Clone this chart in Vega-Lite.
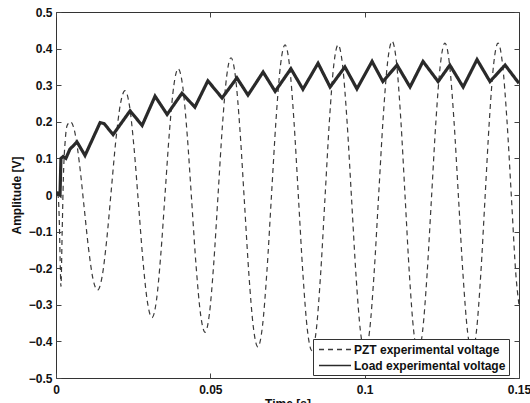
{
  "$schema": "https://vega.github.io/schema/vega-lite/v6.json",
  "width": 463,
  "height": 366,
  "autosize": {"type": "none"},
  "padding": {"left": 56, "top": 12, "right": 11, "bottom": 25},
  "background": "white",
  "config": {
    "view": {"stroke": "#333", "strokeWidth": 1},
    "axis": {
      "labelFont": "Liberation Sans", "labelFontWeight": "bold", "labelFontSize": 12, "labelColor": "#111",
      "titleFont": "Liberation Sans", "titleFontWeight": "bold", "titleFontSize": 12, "titleColor": "#111",
      "domain": false, "grid": false, "tickColor": "#444", "tickSize": -5, "tickWidth": 1
    },
    "legend": {
      "labelFont": "Liberation Sans", "labelFontWeight": "bold", "labelFontSize": 12, "labelColor": "#111"
    }
  },
  "data": {
    "values": [
      {"series": "Load experimental voltage", "t": 0.0, "v": 0.0},
      {"series": "Load experimental voltage", "t": 0.0006, "v": 0.005},
      {"series": "Load experimental voltage", "t": 0.0013, "v": 0.0},
      {"series": "Load experimental voltage", "t": 0.0016, "v": 0.1},
      {"series": "Load experimental voltage", "t": 0.0023, "v": 0.105},
      {"series": "Load experimental voltage", "t": 0.0032, "v": 0.1},
      {"series": "Load experimental voltage", "t": 0.0045, "v": 0.125},
      {"series": "Load experimental voltage", "t": 0.0068, "v": 0.145},
      {"series": "Load experimental voltage", "t": 0.0094, "v": 0.108},
      {"series": "Load experimental voltage", "t": 0.0143, "v": 0.198},
      {"series": "Load experimental voltage", "t": 0.0156, "v": 0.195},
      {"series": "Load experimental voltage", "t": 0.0185, "v": 0.165},
      {"series": "Load experimental voltage", "t": 0.024, "v": 0.23},
      {"series": "Load experimental voltage", "t": 0.0279, "v": 0.19},
      {"series": "Load experimental voltage", "t": 0.0321, "v": 0.27},
      {"series": "Load experimental voltage", "t": 0.036, "v": 0.22},
      {"series": "Load experimental voltage", "t": 0.0408, "v": 0.278},
      {"series": "Load experimental voltage", "t": 0.045, "v": 0.24},
      {"series": "Load experimental voltage", "t": 0.0492, "v": 0.312},
      {"series": "Load experimental voltage", "t": 0.0538, "v": 0.265},
      {"series": "Load experimental voltage", "t": 0.0586, "v": 0.32},
      {"series": "Load experimental voltage", "t": 0.0622, "v": 0.273},
      {"series": "Load experimental voltage", "t": 0.0671, "v": 0.336},
      {"series": "Load experimental voltage", "t": 0.071, "v": 0.283},
      {"series": "Load experimental voltage", "t": 0.0761, "v": 0.345},
      {"series": "Load experimental voltage", "t": 0.08, "v": 0.289},
      {"series": "Load experimental voltage", "t": 0.0849, "v": 0.36},
      {"series": "Load experimental voltage", "t": 0.0888, "v": 0.295},
      {"series": "Load experimental voltage", "t": 0.0936, "v": 0.35},
      {"series": "Load experimental voltage", "t": 0.0975, "v": 0.29},
      {"series": "Load experimental voltage", "t": 0.1024, "v": 0.365},
      {"series": "Load experimental voltage", "t": 0.1059, "v": 0.31},
      {"series": "Load experimental voltage", "t": 0.1105, "v": 0.355},
      {"series": "Load experimental voltage", "t": 0.1147, "v": 0.295},
      {"series": "Load experimental voltage", "t": 0.1189, "v": 0.365},
      {"series": "Load experimental voltage", "t": 0.1238, "v": 0.31},
      {"series": "Load experimental voltage", "t": 0.1276, "v": 0.355},
      {"series": "Load experimental voltage", "t": 0.1319, "v": 0.295},
      {"series": "Load experimental voltage", "t": 0.1364, "v": 0.37},
      {"series": "Load experimental voltage", "t": 0.1406, "v": 0.31},
      {"series": "Load experimental voltage", "t": 0.1455, "v": 0.355},
      {"series": "Load experimental voltage", "t": 0.15, "v": 0.305},

      {"series": "PZT experimental voltage", "t": 0.0, "v": 0.0},
      {"series": "PZT experimental voltage", "t": 0.0006, "v": 0.0},
      {"series": "PZT experimental voltage", "t": 0.0011, "v": -0.08},
      {"series": "PZT experimental voltage", "t": 0.0014, "v": -0.2},
      {"series": "PZT experimental voltage", "t": 0.0016, "v": -0.25},
      {"series": "PZT experimental voltage", "t": 0.002, "v": -0.1},
      {"series": "PZT experimental voltage", "t": 0.0024, "v": 0.05},
      {"series": "PZT experimental voltage", "t": 0.003, "v": 0.15},
      {"series": "PZT experimental voltage", "t": 0.0036, "v": 0.19},
      {"series": "PZT experimental voltage", "t": 0.0047, "v": 0.2},
      {"series": "PZT experimental voltage", "t": 0.00616, "v": 0.169},
      {"series": "PZT experimental voltage", "t": 0.00761, "v": 0.085},
      {"series": "PZT experimental voltage", "t": 0.00907, "v": -0.03},
      {"series": "PZT experimental voltage", "t": 0.01053, "v": -0.145},
      {"series": "PZT experimental voltage", "t": 0.01198, "v": -0.229},
      {"series": "PZT experimental voltage", "t": 0.01344, "v": -0.26},
      {"series": "PZT experimental voltage", "t": 0.01493, "v": -0.2235},
      {"series": "PZT experimental voltage", "t": 0.01641, "v": -0.124},
      {"series": "PZT experimental voltage", "t": 0.0179, "v": 0.0125},
      {"series": "PZT experimental voltage", "t": 0.01938, "v": 0.149},
      {"series": "PZT experimental voltage", "t": 0.02087, "v": 0.2485},
      {"series": "PZT experimental voltage", "t": 0.02235, "v": 0.285},
      {"series": "PZT experimental voltage", "t": 0.02381, "v": 0.2435},
      {"series": "PZT experimental voltage", "t": 0.02527, "v": 0.13},
      {"series": "PZT experimental voltage", "t": 0.02673, "v": -0.025},
      {"series": "PZT experimental voltage", "t": 0.02818, "v": -0.18},
      {"series": "PZT experimental voltage", "t": 0.02964, "v": -0.2935},
      {"series": "PZT experimental voltage", "t": 0.0311, "v": -0.335},
      {"series": "PZT experimental voltage", "t": 0.03252, "v": -0.2894},
      {"series": "PZT experimental voltage", "t": 0.03393, "v": -0.165},
      {"series": "PZT experimental voltage", "t": 0.03535, "v": 0.005},
      {"series": "PZT experimental voltage", "t": 0.03677, "v": 0.175},
      {"series": "PZT experimental voltage", "t": 0.03818, "v": 0.2994},
      {"series": "PZT experimental voltage", "t": 0.0396, "v": 0.345},
      {"series": "PZT experimental voltage", "t": 0.04105, "v": 0.2968},
      {"series": "PZT experimental voltage", "t": 0.0425, "v": 0.165},
      {"series": "PZT experimental voltage", "t": 0.04395, "v": -0.015},
      {"series": "PZT experimental voltage", "t": 0.0454, "v": -0.195},
      {"series": "PZT experimental voltage", "t": 0.04685, "v": -0.3268},
      {"series": "PZT experimental voltage", "t": 0.0483, "v": -0.375},
      {"series": "PZT experimental voltage", "t": 0.0497, "v": -0.3248},
      {"series": "PZT experimental voltage", "t": 0.0511, "v": -0.1875},
      {"series": "PZT experimental voltage", "t": 0.0525, "v": 0.0},
      {"series": "PZT experimental voltage", "t": 0.0539, "v": 0.1875},
      {"series": "PZT experimental voltage", "t": 0.0553, "v": 0.3248},
      {"series": "PZT experimental voltage", "t": 0.0567, "v": 0.375},
      {"series": "PZT experimental voltage", "t": 0.05815, "v": 0.322},
      {"series": "PZT experimental voltage", "t": 0.0596, "v": 0.1775},
      {"series": "PZT experimental voltage", "t": 0.06105, "v": -0.02},
      {"series": "PZT experimental voltage", "t": 0.0625, "v": -0.2175},
      {"series": "PZT experimental voltage", "t": 0.06395, "v": -0.362},
      {"series": "PZT experimental voltage", "t": 0.0654, "v": -0.415},
      {"series": "PZT experimental voltage", "t": 0.06687, "v": -0.3597},
      {"series": "PZT experimental voltage", "t": 0.06833, "v": -0.2088},
      {"series": "PZT experimental voltage", "t": 0.0698, "v": -0.0025},
      {"series": "PZT experimental voltage", "t": 0.07127, "v": 0.2038},
      {"series": "PZT experimental voltage", "t": 0.07273, "v": 0.3547},
      {"series": "PZT experimental voltage", "t": 0.0742, "v": 0.41},
      {"series": "PZT experimental voltage", "t": 0.07565, "v": 0.3541},
      {"series": "PZT experimental voltage", "t": 0.0771, "v": 0.2013},
      {"series": "PZT experimental voltage", "t": 0.07855, "v": -0.0075},
      {"series": "PZT experimental voltage", "t": 0.08, "v": -0.2163},
      {"series": "PZT experimental voltage", "t": 0.08145, "v": -0.3691},
      {"series": "PZT experimental voltage", "t": 0.0829, "v": -0.425},
      {"series": "PZT experimental voltage", "t": 0.08432, "v": -0.3691},
      {"series": "PZT experimental voltage", "t": 0.08573, "v": -0.2163},
      {"series": "PZT experimental voltage", "t": 0.08715, "v": -0.0075},
      {"series": "PZT experimental voltage", "t": 0.08857, "v": 0.2013},
      {"series": "PZT experimental voltage", "t": 0.08998, "v": 0.3541},
      {"series": "PZT experimental voltage", "t": 0.0914, "v": 0.41},
      {"series": "PZT experimental voltage", "t": 0.09285, "v": 0.3537},
      {"series": "PZT experimental voltage", "t": 0.0943, "v": 0.2},
      {"series": "PZT experimental voltage", "t": 0.09575, "v": -0.01},
      {"series": "PZT experimental voltage", "t": 0.0972, "v": -0.22},
      {"series": "PZT experimental voltage", "t": 0.09865, "v": -0.3737},
      {"series": "PZT experimental voltage", "t": 0.1001, "v": -0.43},
      {"series": "PZT experimental voltage", "t": 0.10157, "v": -0.373},
      {"series": "PZT experimental voltage", "t": 0.10303, "v": -0.2175},
      {"series": "PZT experimental voltage", "t": 0.1045, "v": -0.005},
      {"series": "PZT experimental voltage", "t": 0.10597, "v": 0.2075},
      {"series": "PZT experimental voltage", "t": 0.10743, "v": 0.363},
      {"series": "PZT experimental voltage", "t": 0.1089, "v": 0.42},
      {"series": "PZT experimental voltage", "t": 0.1103, "v": 0.363},
      {"series": "PZT experimental voltage", "t": 0.1117, "v": 0.2075},
      {"series": "PZT experimental voltage", "t": 0.1131, "v": -0.005},
      {"series": "PZT experimental voltage", "t": 0.1145, "v": -0.2175},
      {"series": "PZT experimental voltage", "t": 0.1159, "v": -0.373},
      {"series": "PZT experimental voltage", "t": 0.1173, "v": -0.43},
      {"series": "PZT experimental voltage", "t": 0.11875, "v": -0.3734},
      {"series": "PZT experimental voltage", "t": 0.1202, "v": -0.2188},
      {"series": "PZT experimental voltage", "t": 0.12165, "v": -0.0075},
      {"series": "PZT experimental voltage", "t": 0.1231, "v": 0.2038},
      {"series": "PZT experimental voltage", "t": 0.12455, "v": 0.3584},
      {"series": "PZT experimental voltage", "t": 0.126, "v": 0.415},
      {"series": "PZT experimental voltage", "t": 0.12747, "v": 0.3584},
      {"series": "PZT experimental voltage", "t": 0.12893, "v": 0.2038},
      {"series": "PZT experimental voltage", "t": 0.1304, "v": -0.0075},
      {"series": "PZT experimental voltage", "t": 0.13187, "v": -0.2188},
      {"series": "PZT experimental voltage", "t": 0.13333, "v": -0.3734},
      {"series": "PZT experimental voltage", "t": 0.1348, "v": -0.43},
      {"series": "PZT experimental voltage", "t": 0.1362, "v": -0.3734},
      {"series": "PZT experimental voltage", "t": 0.1376, "v": -0.2188},
      {"series": "PZT experimental voltage", "t": 0.139, "v": -0.0075},
      {"series": "PZT experimental voltage", "t": 0.1404, "v": 0.2038},
      {"series": "PZT experimental voltage", "t": 0.1418, "v": 0.3584},
      {"series": "PZT experimental voltage", "t": 0.1432, "v": 0.415},
      {"series": "PZT experimental voltage", "t": 0.14465, "v": 0.3584},
      {"series": "PZT experimental voltage", "t": 0.1461, "v": 0.2038},
      {"series": "PZT experimental voltage", "t": 0.14755, "v": -0.0075},
      {"series": "PZT experimental voltage", "t": 0.149, "v": -0.2188},
      {"series": "PZT experimental voltage", "t": 0.15, "v": -0.3}
    ]
  },
  "resolve": {"axis": {"x": "independent", "y": "independent"}},
  "layer": [
    {
      "transform": [{"filter": "datum.series === 'PZT experimental voltage'"}],
      "mark": {"type": "line", "interpolate": "monotone", "strokeWidth": 1.2, "clip": true},
      "encoding": {
        "x": {"field": "t", "type": "quantitative", "scale": {"domain": [0, 0.15], "nice": false},
          "axis": {"orient": "bottom", "title": "Time [s]", "values": [0, 0.05, 0.1, 0.15], "format": ".2~f", "labelPadding": 11, "titlePadding": 3, "labelFlush": false}},
        "y": {"field": "v", "type": "quantitative", "scale": {"domain": [-0.5, 0.5], "nice": false},
          "axis": {"orient": "left", "title": "Amplitude [V]", "values": [-0.5, -0.4, -0.3, -0.2, -0.1, 0, 0.1, 0.2, 0.3, 0.4, 0.5], "format": ".1~f", "labelPadding": 9, "titlePadding": 5}},
        "color": {"field": "series", "type": "nominal",
          "scale": {"domain": ["PZT experimental voltage", "Load experimental voltage"], "range": ["#3a3a3a", "#2a2a2a"]},
          "legend": {"title": null, "orient": "none", "legendX": 257, "legendY": 327, "fillColor": "white", "strokeColor": "#333", "padding": 3, "symbolType": "M-2.46,0H2.46", "symbolSize": 169, "symbolOffset": 11.5, "labelOffset": 11.5, "rowPadding": 2, "symbolStrokeWidth": 1.6}},
        "strokeDash": {"field": "series", "type": "nominal",
          "scale": {"domain": ["PZT experimental voltage", "Load experimental voltage"], "range": [[5, 4], [1, 0]]},
          "legend": {"title": null, "orient": "none", "legendX": 257, "legendY": 327, "fillColor": "white", "strokeColor": "#333", "padding": 3, "symbolType": "M-2.46,0H2.46", "symbolSize": 169, "symbolOffset": 11.5, "labelOffset": 11.5, "rowPadding": 2, "symbolStrokeWidth": 1.6}}
      }
    },
    {
      "transform": [{"filter": "datum.series === 'Load experimental voltage'"}],
      "mark": {"type": "line", "interpolate": "linear", "strokeWidth": 3.2, "clip": true},
      "encoding": {
        "x": {"field": "t", "type": "quantitative",
          "axis": {"orient": "top", "title": null, "labels": false, "values": [0, 0.05, 0.1, 0.15]}},
        "y": {"field": "v", "type": "quantitative",
          "axis": {"orient": "right", "title": null, "labels": false, "values": [-0.5, -0.4, -0.3, -0.2, -0.1, 0, 0.1, 0.2, 0.3, 0.4, 0.5]}},
        "color": {"field": "series", "type": "nominal"},
        "strokeDash": {"field": "series", "type": "nominal"}
      }
    }
  ]
}
